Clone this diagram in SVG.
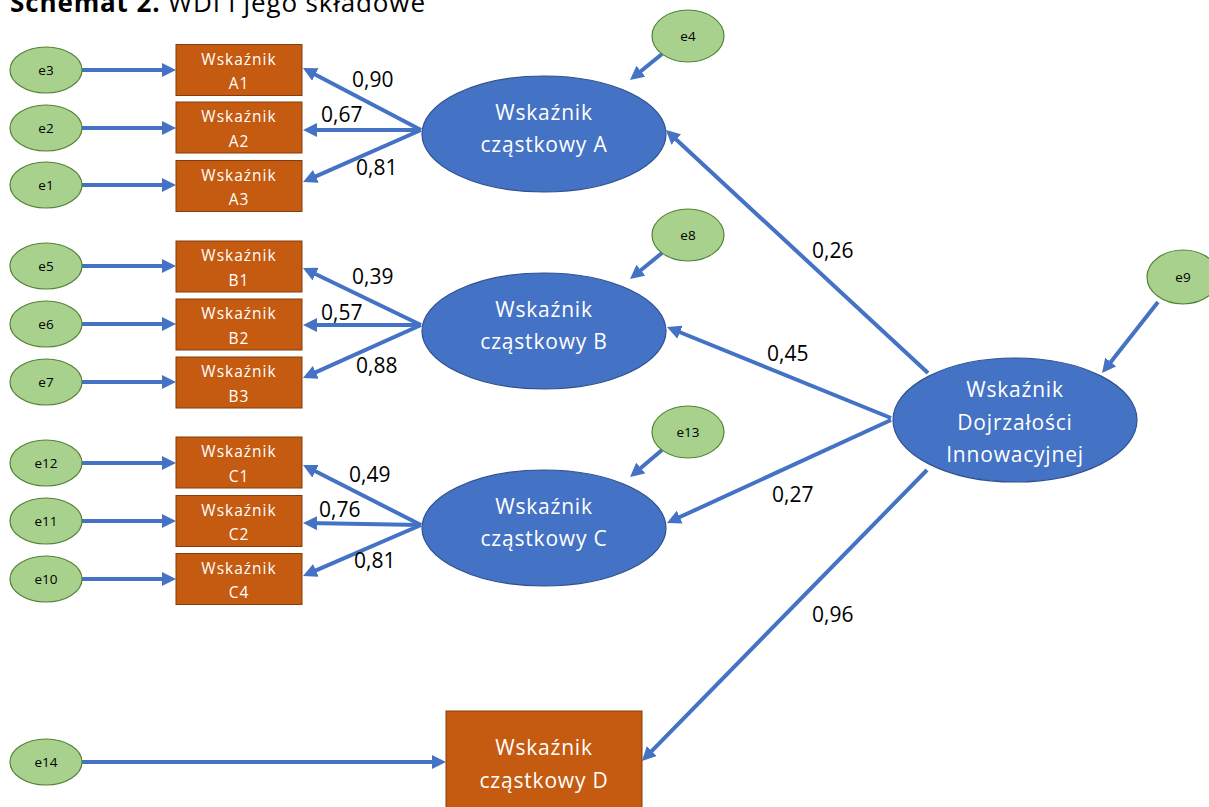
<svg xmlns="http://www.w3.org/2000/svg" width="1209" height="807" viewBox="0 0 1209 807">
<style>
.err ellipse{fill:#A9D18E;stroke:#548235;stroke-width:1.2}
.err text{font-family:"Open Sans","Liberation Sans",sans-serif;font-size:13.5px;fill:#000;text-anchor:middle}
.ind rect{fill:#C55A11;stroke:#843C0C;stroke-width:1}
.ind text{font-family:"Open Sans","Liberation Sans",sans-serif;font-size:15.5px;letter-spacing:1px;fill:#fff;text-anchor:middle}
.lat ellipse{fill:#4472C4;stroke:#2F528F;stroke-width:1.2}
.lat text,.big text{font-family:"Open Sans","Liberation Sans",sans-serif;font-size:21px;letter-spacing:0.8px;fill:#fff;text-anchor:middle}
.big rect{fill:#C55A11;stroke:#843C0C;stroke-width:1}
.lbl{font-family:"Open Sans","Liberation Sans",sans-serif;font-size:21px;fill:#000}
#connectors line{stroke:#4472C4;stroke-width:4;fill:none;marker-end:url(#arr)}
</style>
<defs>
<marker id="arr" markerUnits="userSpaceOnUse" markerWidth="14" markerHeight="14" refX="10" refY="7" orient="auto">
<path d="M0,0 L14,7 L0,14 z" fill="#4472C4"/>
</marker>
</defs>
<rect width="1209" height="807" fill="#fff"/>
<text x="10" y="12" font-family="'Open Sans','Liberation Sans',sans-serif" font-size="26" fill="#000" textLength="415" lengthAdjust="spacing"><tspan font-weight="bold">Schemat 2.</tspan> WDI i jego składowe</text>

<g id="connectors">
<line x1="82" y1="70" x2="172" y2="70"/>
<line x1="82" y1="128" x2="172" y2="128"/>
<line x1="82" y1="185" x2="172" y2="185"/>
<line x1="82" y1="266" x2="172" y2="266"/>
<line x1="82" y1="324" x2="172" y2="324"/>
<line x1="82" y1="382" x2="172" y2="382"/>
<line x1="82" y1="463" x2="172" y2="463"/>
<line x1="82" y1="521" x2="172" y2="521"/>
<line x1="82" y1="579" x2="172" y2="579"/>
<line x1="82" y1="762" x2="442" y2="762"/>
<line x1="421" y1="130" x2="306.5" y2="69.9"/>
<line x1="421" y1="130" x2="307" y2="130"/>
<line x1="421" y1="130" x2="306.7" y2="180.4"/>
<line x1="421" y1="325" x2="306.6" y2="269.8"/>
<line x1="421" y1="325" x2="307" y2="325"/>
<line x1="421" y1="325" x2="306.6" y2="376.4"/>
<line x1="421" y1="525" x2="306.6" y2="466.8"/>
<line x1="421" y1="525" x2="307" y2="523"/>
<line x1="421" y1="525" x2="306.7" y2="574.4"/>
<line x1="662" y1="54" x2="633.1" y2="77.5"/>
<line x1="662" y1="253" x2="633.1" y2="276.5"/>
<line x1="662" y1="450" x2="633.1" y2="474.5"/>
<line x1="1158" y1="302" x2="1104.5" y2="369.9"/>
<line x1="928" y1="373" x2="668.9" y2="132.7"/>
<line x1="891" y1="418" x2="670.7" y2="328.5"/>
<line x1="891" y1="420" x2="670.6" y2="521.3"/>
<line x1="927" y1="470" x2="644.8" y2="758.1"/>
</g>

<g id="e3" class="err"><ellipse cx="46" cy="70" rx="36" ry="23"/><text x="46" y="75">e3</text></g>
<g id="e2" class="err"><ellipse cx="46" cy="128" rx="36" ry="23"/><text x="46" y="133">e2</text></g>
<g id="e1" class="err"><ellipse cx="46" cy="185" rx="36" ry="23"/><text x="46" y="190">e1</text></g>
<g id="e5" class="err"><ellipse cx="46" cy="266" rx="36" ry="23"/><text x="46" y="271">e5</text></g>
<g id="e6" class="err"><ellipse cx="46" cy="324" rx="36" ry="23"/><text x="46" y="329">e6</text></g>
<g id="e7" class="err"><ellipse cx="46" cy="382" rx="36" ry="23"/><text x="46" y="387">e7</text></g>
<g id="e12" class="err"><ellipse cx="46" cy="463" rx="36" ry="23"/><text x="46" y="468">e12</text></g>
<g id="e11" class="err"><ellipse cx="46" cy="521" rx="36" ry="23"/><text x="46" y="526">e11</text></g>
<g id="e10" class="err"><ellipse cx="46" cy="579" rx="36" ry="23"/><text x="46" y="584">e10</text></g>
<g id="e14" class="err"><ellipse cx="46" cy="762" rx="36" ry="23"/><text x="46" y="767">e14</text></g>
<g id="e4" class="err"><ellipse cx="688" cy="36" rx="36" ry="26"/><text x="688" y="41">e4</text></g>
<g id="e8" class="err"><ellipse cx="688" cy="235" rx="36" ry="26"/><text x="688" y="240">e8</text></g>
<g id="e13" class="err"><ellipse cx="688" cy="432" rx="36" ry="26"/><text x="688" y="437">e13</text></g>
<g id="e9" class="err"><ellipse cx="1183" cy="277" rx="36" ry="27"/><text x="1183" y="282">e9</text></g>

<g id="A1" class="ind"><rect x="176" y="44.5" width="126" height="51"/><text x="239" y="64.5">Wskaźnik</text><text x="239" y="89">A1</text></g>
<g id="A2" class="ind"><rect x="176" y="102" width="126" height="51"/><text x="239" y="122">Wskaźnik</text><text x="239" y="146.5">A2</text></g>
<g id="A3" class="ind"><rect x="176" y="160.5" width="126" height="51"/><text x="239" y="180.5">Wskaźnik</text><text x="239" y="205">A3</text></g>
<g id="B1" class="ind"><rect x="176" y="241" width="126" height="51"/><text x="239" y="261">Wskaźnik</text><text x="239" y="285.5">B1</text></g>
<g id="B2" class="ind"><rect x="176" y="299" width="126" height="51"/><text x="239" y="319">Wskaźnik</text><text x="239" y="343.5">B2</text></g>
<g id="B3" class="ind"><rect x="176" y="357" width="126" height="51"/><text x="239" y="377">Wskaźnik</text><text x="239" y="401.5">B3</text></g>
<g id="C1" class="ind"><rect x="176" y="437" width="126" height="51"/><text x="239" y="457">Wskaźnik</text><text x="239" y="481.5">C1</text></g>
<g id="C2" class="ind"><rect x="176" y="495.5" width="126" height="51"/><text x="239" y="515.5">Wskaźnik</text><text x="239" y="540">C2</text></g>
<g id="C4" class="ind"><rect x="176" y="553.5" width="126" height="51"/><text x="239" y="573.5">Wskaźnik</text><text x="239" y="598">C4</text></g>

<g id="WA" class="lat"><ellipse cx="544" cy="134" rx="122" ry="58"/><text x="544" y="120">Wskaźnik</text><text x="544" y="152">cząstkowy A</text></g>
<g id="WB" class="lat"><ellipse cx="544" cy="331" rx="122" ry="58"/><text x="544" y="317">Wskaźnik</text><text x="544" y="349">cząstkowy B</text></g>
<g id="WC" class="lat"><ellipse cx="544" cy="528" rx="122" ry="58"/><text x="544" y="514">Wskaźnik</text><text x="544" y="546">cząstkowy C</text></g>
<g id="WDI" class="lat"><ellipse cx="1015" cy="420" rx="122" ry="62"/><text x="1015" y="397">Wskaźnik</text><text x="1015" y="430">Dojrzałości</text><text x="1015" y="462">Innowacyjnej</text></g>
<g id="WD" class="big"><rect x="446" y="711" width="196" height="100"/><text x="544" y="755">Wskaźnik</text><text x="544" y="788">cząstkowy D</text></g>

<g id="labels">
<text class="lbl" x="352" y="87">0,90</text>
<text class="lbl" x="321" y="122">0,67</text>
<text class="lbl" x="356" y="175">0,81</text>
<text class="lbl" x="352" y="284">0,39</text>
<text class="lbl" x="321" y="320">0,57</text>
<text class="lbl" x="356" y="373">0,88</text>
<text class="lbl" x="349" y="482">0,49</text>
<text class="lbl" x="319" y="517">0,76</text>
<text class="lbl" x="354" y="568">0,81</text>
<text class="lbl" x="812" y="258">0,26</text>
<text class="lbl" x="767" y="361">0,45</text>
<text class="lbl" x="772" y="502">0,27</text>
<text class="lbl" x="812" y="622">0,96</text>
</g>
</svg>
